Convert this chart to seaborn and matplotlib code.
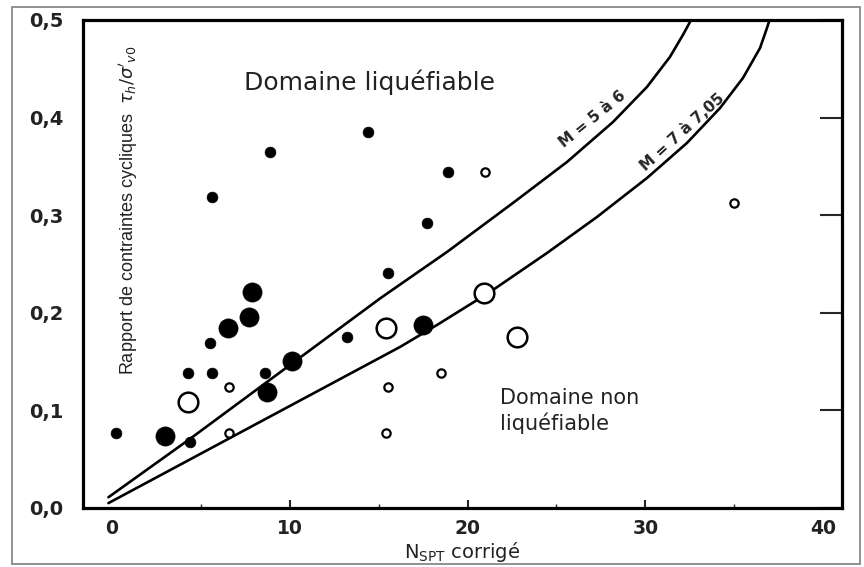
import matplotlib
matplotlib.use("Agg")
import matplotlib.pyplot as plt
from matplotlib.patches import Rectangle
import seaborn as sns
import pandas as pd

# ---------------- data ----------------
# Liquefaction observed (filled), small / large markers
liq_small_N = [0.2, 4.4, 4.3, 5.6, 5.5, 8.6, 13.2, 15.5, 17.7, 18.9, 14.4, 8.9, 5.6]
liq_small_r = [0.077, 0.068, 0.138, 0.138, 0.169, 0.138, 0.175, 0.241, 0.292, 0.344, 0.385, 0.365, 0.319]
liq_large_N = [3.0, 6.5, 7.7, 7.9, 8.7, 10.1, 17.5]
liq_large_r = [0.074, 0.184, 0.196, 0.221, 0.119, 0.151, 0.1875]

# No liquefaction (open), small / large markers
non_small_N = [6.6, 6.6, 15.5, 15.4, 18.5, 21.0, 35.0]
non_small_r = [0.124, 0.077, 0.124, 0.077, 0.138, 0.344, 0.3125]
non_large_N = [4.3, 15.4, 20.9, 22.8]
non_large_r = [0.109, 0.184, 0.220, 0.175]

# Boundary curves
curve1_N = [-0.2, 4.4, 15.1, 18.84, 22.55, 25.59, 28.18, 30.09, 31.38, 32.11, 32.51]
curve1_r = [0.011, 0.071, 0.215, 0.2623, 0.3125, 0.3545, 0.3955, 0.4314, 0.4621, 0.4846, 0.498]
curve2_N = [-0.2, 16.2, 18.28, 21.26, 24.47, 27.28, 30.09, 32.34, 34.20, 35.49, 36.45, 36.84, 36.95]
curve2_r = [0.005, 0.165, 0.1875, 0.2213, 0.2613, 0.2982, 0.3381, 0.3740, 0.4098, 0.4406, 0.4713, 0.4918, 0.498]

x_ticks = [0, 10, 20, 30, 40]
x_tick_labels = ["0", "10", "20", "30", "40"]
y_ticks = [0.0, 0.1, 0.2, 0.3, 0.4, 0.5]
y_tick_labels = ["0,0", "0,1", "0,2", "0,3", "0,4", "0,5"]

curve1_label = "M = 5 à 6"
curve2_label = "M = 7 à 7,05"

# ---------------- figure ----------------
sns.set_theme(style="white")
plt.rcParams["font.family"] = ["DejaVu Sans"]

fig = plt.figure(figsize=(8.64, 5.67), dpi=100)
ax = fig.add_axes([83 / 864, 1 - 508 / 567, (842 - 83) / 864, (508 - 20) / 567])

df_c1 = pd.DataFrame({"N": curve1_N, "r": curve1_r})
df_c2 = pd.DataFrame({"N": curve2_N, "r": curve2_r})
sns.lineplot(data=df_c1, x="N", y="r", ax=ax, color="black", lw=1.9,
             sort=False, estimator=None)
sns.lineplot(data=df_c2, x="N", y="r", ax=ax, color="black", lw=1.9,
             sort=False, estimator=None)

sns.scatterplot(x=liq_small_N, y=liq_small_r, ax=ax, s=60, color="black",
                edgecolor="black", linewidth=0.5, zorder=3)
sns.scatterplot(x=liq_large_N, y=liq_large_r, ax=ax, s=190, color="black",
                edgecolor="black", linewidth=0.5, zorder=3)
sns.scatterplot(x=non_small_N, y=non_small_r, ax=ax, s=36, facecolor="white",
                edgecolor="black", linewidth=1.6, zorder=3)
sns.scatterplot(x=non_large_N, y=non_large_r, ax=ax, s=200, facecolor="white",
                edgecolor="black", linewidth=1.8, zorder=3)

ax.set_xlim(-1.63, 41.06)
ax.set_ylim(0, 0.5)

ax.set_xticks(x_ticks)
ax.set_xticklabels(x_tick_labels)
ax.set_yticks(y_ticks)
ax.set_yticklabels(y_tick_labels)
ax.set_xticks([5, 15, 25, 35], minor=True)

ax.tick_params(axis="x", which="major", direction="in", length=6, width=1.5,
               bottom=True, top=False, pad=8, labelsize=13.5, labelcolor="#222222")
ax.tick_params(axis="x", which="minor", direction="in", length=3, width=1.0,
               bottom=True, top=False)
ax.tick_params(axis="y", direction="in", length=16, width=1.5, left=False,
               right=True, labelleft=True, pad=14, labelsize=14, labelcolor="#222222")
for lab in ax.get_xticklabels() + ax.get_yticklabels():
    lab.set_fontweight("bold")
xt = ax.xaxis.get_major_ticks()
xt[0].tick1line.set_visible(False)
xt[-1].tick1line.set_visible(False)

for s in ax.spines.values():
    s.set_visible(True)
    s.set_color("black")
    s.set_linewidth(2.3)

ax.set_ylabel(r"Rapport de contraintes cycliques  $\tau_h/\sigma'_{v0}$",
              fontsize=13, family=["Liberation Sans", "DejaVu Sans"], color="#222222")
ax.yaxis.set_label_coords(0.075, 0.61)
ax.set_xlabel(r"N$_{\rm SPT}$ corrigé", fontsize=14, color="#222222")
ax.xaxis.set_label_coords(0.5, -0.065)

ax.text(14.5, 0.4366, "Domaine liquéfiable", fontsize=18, ha="center",
        va="center", color="#222222")
ax.text(21.8, 0.099, "Domaine non\nliquéfiable", fontsize=15, ha="left",
        va="center", color="#222222", linespacing=1.25)

ax.text(27.0, 0.398, curve1_label, fontsize=11, fontweight="bold",
        rotation=39, ha="center", va="center", rotation_mode="anchor")
ax.text(32.1, 0.385, curve2_label, fontsize=11, fontweight="bold",
        rotation=42, ha="center", va="center", rotation_mode="anchor")

fig.patches.append(Rectangle((12 / 864, 3 / 567), 848 / 864, 557 / 567,
                             transform=fig.transFigure, fill=False,
                             edgecolor="#888888", lw=1.3))

fig.savefig("out.png", dpi=100)
